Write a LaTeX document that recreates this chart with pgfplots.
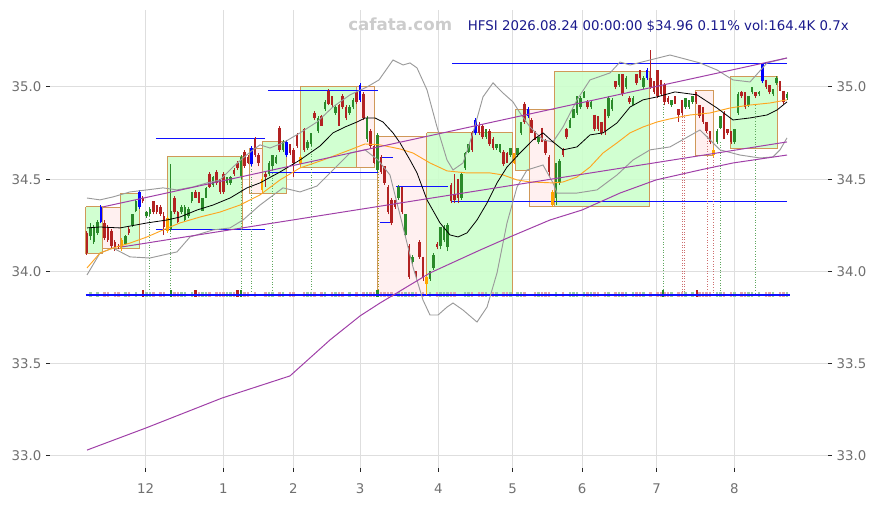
\documentclass[border=0pt]{standalone}
\usepackage{fontspec}
\setmainfont{DejaVu Sans}
\usepackage{pgfplots}
\usepackage{pgfplotstable}
\pgfplotsset{compat=1.18}

\definecolor{cup}{HTML}{2A8A2A}
\definecolor{cdn}{HTML}{B22222}
\definecolor{chi}{HTML}{0000FF}
\definecolor{clo}{HTML}{FFA500}
\definecolor{boxgreen}{HTML}{CCFFCC}
\definecolor{boxpink}{HTML}{FFEEEE}
\definecolor{boxedge}{HTML}{D09858}
\definecolor{band}{HTML}{9A9A9A}
\definecolor{maorange}{HTML}{FFA520}
\definecolor{purp}{HTML}{A040A8}
\definecolor{ticktext}{HTML}{707070}
\definecolor{ttl}{HTML}{1A1A8C}
\definecolor{wmark}{HTML}{CCCCCC}
\definecolor{hline}{HTML}{1010FF}

% daily candles: index, open, high, low, close, volume bar height
\pgfplotstableread{
i o h l c v
1 34.19 34.26 34.17 34.24 0.025
2 34.16 34.25 34.15 34.24 0
3 34.21 34.28 34.20 34.27 0.025
11 34.15 34.20 34.15 34.19 0.025
13 34.25 34.31 34.24 34.31 0
14 34.33 34.39 34.32 34.38 0.025
17 34.30 34.33 34.29 34.32 0.025
18 34.31 34.35 34.30 34.34 0.025
24 34.23 34.58 34.22 34.33 0
27 34.32 34.36 34.31 34.35 0.025
28 34.28 34.36 34.27 34.35 0.025
29 34.30 34.35 34.29 34.34 0
30 34.38 34.43 34.37 34.43 0.025
33 34.33 34.40 34.33 34.40 0.025
34 34.40 34.46 34.40 34.45 0.025
36 34.47 34.52 34.46 34.51 0
40 34.48 34.51 34.47 34.51 0.025
41 34.48 34.52 34.47 34.51 0.025
44 34.52 34.63 34.50 34.62 0
52 34.53 34.60 34.52 34.59 0.025
53 34.57 34.63 34.55 34.63 0.025
54 34.59 34.63 34.58 34.62 0
56 34.66 34.71 34.65 34.70 0.025
63 34.67 34.71 34.66 34.70 0.025
64 34.69 34.75 34.68 34.75 0.025
66 34.76 34.84 34.75 34.83 0
68 34.88 34.93 34.87 34.92 0.025
71 34.86 34.90 34.85 34.89 0.025
75 34.86 34.90 34.85 34.89 0.025
76 34.89 34.94 34.88 34.93 0
80 34.72 34.84 34.70 34.83 0.025
83 34.55 34.75 34.54 34.74 0
89 34.40 34.47 34.39 34.46 0.025
91 34.20 34.31 34.19 34.31 0.025
93 34.05 34.09 34.04 34.08 0.025
98 33.96 34.00 33.95 34.00 0.025
99 34.02 34.10 34.01 34.09 0
101 34.14 34.24 34.12 34.24 0.025
102 34.17 34.25 34.16 34.24 0.025
103 34.13 34.26 34.11 34.25 0.025
107 34.40 34.54 34.39 34.53 0
108 34.56 34.65 34.55 34.64 0.025
109 34.65 34.69 34.64 34.69 0.025
114 34.73 34.77 34.72 34.77 0.025
117 34.67 34.69 34.66 34.69 0.025
118 34.65 34.69 34.64 34.69 0
121 34.63 34.67 34.62 34.67 0.025
123 34.63 34.67 34.62 34.67 0.025
124 34.75 34.81 34.74 34.81 0.025
129 34.70 34.73 34.69 34.73 0.025
134 34.40 34.59 34.36 34.59 0.025
135 34.48 34.61 34.47 34.60 0
138 34.78 34.83 34.78 34.82 0.025
139 34.83 34.88 34.83 34.88 0.025
140 34.86 34.95 34.85 34.95 0.025
141 34.89 34.95 34.88 34.94 0
142 34.94 34.98 34.94 34.97 0.025
144 34.89 34.93 34.88 34.92 0.025
149 34.84 34.95 34.83 34.94 0.025
150 34.88 34.94 34.87 34.93 0
152 35.01 35.07 35.00 35.07 0.025
154 35.00 35.06 34.99 35.05 0.025
156 34.90 34.95 34.90 34.94 0.025
159 35.00 35.06 34.99 35.05 0.025
167 34.90 34.93 34.89 34.93 0.025
171 34.89 34.94 34.88 34.94 0.025
172 34.89 34.93 34.88 34.93 0
173 34.92 34.95 34.91 34.95 0.025
180 34.70 34.77 34.69 34.76 0.025
181 34.78 34.84 34.77 34.84 0.025
185 34.70 34.77 34.69 34.77 0.025
186 34.86 34.97 34.85 34.96 0
189 34.90 34.95 34.89 34.95 0.025
190 34.97 35.00 34.96 35.00 0.025
192 34.96 34.98 34.95 34.97 0.025
196 34.96 34.99 34.95 34.99 0.025
197 35.02 35.06 35.01 35.05 0
200 34.94 34.97 34.93 34.96 0.025
}\upc

\pgfplotstableread{
i o h l c v
0 34.21 34.22 34.09 34.10 0
5 34.26 34.28 34.17 34.18 0.025
6 34.24 34.25 34.16 34.17 0.025
7 34.22 34.23 34.12 34.14 0
8 34.16 34.17 34.11 34.13 0.025
9 34.14 34.15 34.12 34.13 0.025
12 34.23 34.24 34.20 34.21 0.025
16 34.40 34.41 34.37 34.38 0
19 34.38 34.38 34.31 34.32 0.025
20 34.36 34.36 34.31 34.32 0
21 34.35 34.36 34.30 34.31 0.025
22 34.30 34.32 34.20 34.24 0.025
25 34.40 34.41 34.31 34.32 0.025
26 34.32 34.33 34.26 34.27 0.025
31 34.43 34.44 34.40 34.40 0
32 34.42 34.43 34.37 34.38 0.025
35 34.53 34.54 34.45 34.46 0.025
37 34.54 34.55 34.47 34.48 0.025
38 34.50 34.50 34.42 34.43 0.025
39 34.53 34.54 34.42 34.43 0.025
42 34.55 34.56 34.52 34.53 0.025
43 34.59 34.60 34.55 34.56 0
45 34.65 34.66 34.56 34.57 0.025
46 34.62 34.63 34.58 34.59 0.025
48 34.72 34.73 34.62 34.63 0.025
49 34.63 34.64 34.57 34.59 0
51 34.53 34.54 34.46 34.51 0.025
55 34.78 34.79 34.65 34.66 0.025
58 34.69 34.69 34.63 34.64 0.025
59 34.66 34.67 34.51 34.59 0.025
60 34.74 34.75 34.67 34.68 0
62 34.77 34.78 34.65 34.66 0.025
65 34.86 34.87 34.82 34.83 0.025
67 34.84 34.85 34.79 34.79 0.025
69 34.98 34.99 34.90 34.91 0
70 34.95 34.95 34.89 34.90 0.025
72 34.90 34.91 34.79 34.79 0.025
73 34.95 34.96 34.88 34.89 0.025
74 34.89 34.90 34.82 34.83 0
77 34.97 34.97 34.91 34.92 0.025
79 34.96 34.97 34.82 34.83 0.025
81 34.76 34.77 34.67 34.68 0.025
82 34.68 34.69 34.58 34.59 0.025
84 34.62 34.63 34.53 34.54 0.025
85 34.57 34.57 34.47 34.48 0.025
86 34.46 34.47 34.31 34.32 0.025
87 34.39 34.40 34.25 34.26 0.025
88 34.39 34.39 34.34 34.35 0
90 34.46 34.46 34.31 34.32 0.025
92 34.14 34.15 33.96 33.97 0.025
94 34.00 34.00 33.96 33.98 0.025
95 34.16 34.17 34.07 34.08 0
96 34.08 34.08 33.95 33.97 0.025
100 34.15 34.16 34.12 34.13 0.025
104 34.47 34.48 34.37 34.38 0.025
105 34.42 34.53 34.37 34.39 0.025
106 34.50 34.50 34.37 34.40 0
110 34.75 34.76 34.65 34.66 0.025
112 34.79 34.81 34.74 34.75 0.025
113 34.79 34.80 34.72 34.73 0.025
115 34.76 34.77 34.68 34.69 0
116 34.72 34.73 34.66 34.67 0.025
119 34.65 34.66 34.57 34.58 0.025
120 34.64 34.65 34.59 34.59 0.025
125 34.91 34.92 34.80 34.81 0.025
127 34.82 34.83 34.75 34.75 0
128 34.76 34.76 34.71 34.71 0.025
130 34.78 34.78 34.70 34.70 0.025
131 34.71 34.72 34.63 34.64 0.025
132 34.62 34.63 34.51 34.54 0.025
136 34.66 34.67 34.62 34.63 0.025
137 34.77 34.78 34.72 34.73 0
143 34.92 34.93 34.88 34.89 0.025
145 34.85 34.85 34.76 34.77 0.025
146 34.84 34.84 34.76 34.77 0.025
147 34.81 34.81 34.74 34.75 0
148 34.88 34.88 34.74 34.76 0.025
151 35.03 35.03 34.99 35.00 0.025
153 35.07 35.07 34.95 34.96 0.025
155 34.94 34.95 34.91 34.92 0
157 35.07 35.07 35.01 35.02 0.025
158 35.09 35.09 35.04 35.05 0.025
161 35.05 35.20 34.99 35.00 0.025
162 35.03 35.03 34.96 34.97 0
163 35.09 35.09 34.94 34.95 0.025
164 35.04 35.04 34.95 34.96 0.025
165 35.01 35.02 34.90 34.92 0.025
166 34.94 34.95 34.91 34.92 0.025
168 34.95 34.95 34.91 34.91 0
169 34.88 34.88 34.81 34.85 0.025
170 34.93 34.93 34.85 34.86 0.025
174 34.97 34.97 34.91 34.92 0
175 34.90 34.90 34.83 34.84 0.025
176 34.89 34.89 34.80 34.81 0.025
177 34.81 34.81 34.75 34.76 0.025
178 34.76 34.76 34.69 34.70 0.025
182 34.86 34.87 34.72 34.72 0.025
183 34.77 34.77 34.74 34.75 0
184 34.76 34.76 34.69 34.70 0.025
187 34.97 34.98 34.94 34.95 0.025
188 34.97 34.97 34.88 34.89 0.025
191 34.97 34.97 34.94 34.95 0
194 35.04 35.04 34.99 35.00 0.025
195 35.01 35.01 34.96 34.97 0.025
198 35.03 35.03 34.98 34.98 0.025
199 34.98 34.98 34.91 34.92 0.025
}\dnc

% new highs (blue) and new lows (orange)
\pgfplotstableread{
i o h l c
4 34.27 34.36 34.26 34.35
15 34.35 34.44 34.34 34.43
47 34.58 34.68 34.57 34.67
57 34.63 34.71 34.62 34.70
78 34.93 35.02 34.92 35.01
111 34.75 34.83 34.74 34.82
126 34.84 34.89 34.83 34.88
160 35.05 35.10 35.04 35.09
193 35.03 35.13 35.02 35.13
}\hic

\pgfplotstableread{
i o h l c
10 34.13 34.18 34.11 34.17
23 34.22 34.30 34.21 34.29
50 34.44 34.51 34.43 34.50
61 34.58 34.63 34.57 34.62
97 33.93 33.99 33.873 33.97
122 34.59 34.64 34.58 34.64
133 34.36 34.44 34.35 34.43
179 34.63 34.67 34.62 34.66
}\loc

\newcommand\candles[2]{%
  \addplot[#2, line width=0.75pt, -, quiver={u=0, v=\thisrow{h}-\thisrow{l}}] table[x=i, y=l] {#1};
  \addplot[#2, line width=2.1pt, -, quiver={u=0, v=\thisrow{c}-\thisrow{o}}] table[x=i, y=o] {#1};
}

\pgfplotsset{
  gbox/.style={fill=boxgreen, draw=boxedge, line width=0.75pt, fill opacity=0.9},
  rbox/.style={fill=boxpink, draw=boxedge, line width=0.75pt, fill opacity=0.9},
  hl/.style={hline, line width=0.75pt},
  frame/.style={
    at={(37.5pt,27.75pt)}, anchor=south west,
    scale only axis, width=583.5pt, height=343.5pt,
    xmin=-10.57, xmax=211.71, ymin=32.935, ymax=35.417,
    ytick={33,33.5,34,34.5,35},
    ticklabel style={font=\fontsize{10}{12}\selectfont, text=ticktext},
    /pgf/number format/assume math mode=true,
    yticklabel style={/pgf/number format/.cd, fixed, fixed zerofill, precision=1},
  },
}

\begin{document}
\begin{tikzpicture}
\path[use as bounding box] (0,0) rectangle (656.25pt,378.75pt);

\begin{axis}[
  frame,
  axis x line*=bottom, axis y line*=left,
  axis line style={draw=none},
  tick align=outside, major tick length=3pt,
  tick style={black!85, line width=0.75pt},
  xtick={16.77,38.94,58.94,78,100.37,121.63,141.43,162.77,184.94},
  xticklabels={12,1,2,3,4,5,6,7,8},
  xticklabel style={yshift=-5pt},
  grid=major, grid style={line width=0.75pt, draw=black!13},
]
% monthly boxes
\addplot[gbox] coordinates {(-0.29,34.350) (4.57,34.350) (4.57,34.100) (-0.29,34.100) (-0.29,34.350)};
\addplot[rbox] coordinates {(4.57,34.344) (9.71,34.344) (9.71,34.127) (4.57,34.127) (4.57,34.344)};
\addplot[gbox] coordinates {(9.71,34.425) (14.86,34.425) (14.86,34.127) (9.71,34.127) (9.71,34.425)};
\addplot[gbox] coordinates {(22.86,34.621) (44.29,34.621) (44.29,34.225) (22.86,34.225) (22.86,34.621)};
\addplot[rbox] coordinates {(46.57,34.669) (50.0,34.669) (50.0,34.425) (46.57,34.425) (46.57,34.669)};
\addplot[gbox] coordinates {(50.0,34.707) (57.14,34.707) (57.14,34.425) (50.0,34.425) (50.0,34.707)};
\addplot[gbox] coordinates {(60.86,35.005) (77.14,35.005) (77.14,34.566) (60.86,34.566) (60.86,35.005)};
\addplot[rbox] coordinates {(77.14,35.005) (82.0,35.005) (82.0,34.566) (77.14,34.566) (77.14,35.005)};
\addplot[rbox] coordinates {(83.14,34.734) (97.14,34.734) (97.14,33.873) (83.14,33.873) (83.14,34.734)};
\addplot[gbox] coordinates {(97.14,34.751) (121.71,34.751) (121.71,33.873) (97.14,33.873) (97.14,34.751)};
\addplot[gbox] coordinates {(122.29,34.880) (126.29,34.880) (126.29,34.545) (122.29,34.545) (122.29,34.880)};
\addplot[rbox] coordinates {(126.29,34.880) (133.43,34.880) (133.43,34.350) (126.29,34.350) (126.29,34.880)};
\addplot[gbox] coordinates {(133.43,35.081) (160.57,35.081) (160.57,34.350) (133.43,34.350) (133.43,35.081)};
\addplot[rbox] coordinates {(173.71,34.978) (178.86,34.978) (178.86,34.631) (173.71,34.631) (173.71,34.978)};
\addplot[gbox] coordinates {(183.71,35.054) (197.14,35.054) (197.14,34.664) (183.71,34.664) (183.71,35.054)};

% previous-period high / low levels
\addplot[hl] coordinates {(19.71,34.718) (50.86,34.718)};
\addplot[hl] coordinates {(19.71,34.225) (50.86,34.225)};
\addplot[hl] coordinates {(51.71,34.978) (83.14,34.978)};
\addplot[hl] coordinates {(51.71,34.539) (83.14,34.539)};
\addplot[hl] coordinates {(83.71,34.615) (87.43,34.615)};
\addplot[hl] coordinates {(83.71,34.263) (87.43,34.263)};
\addplot[hl] coordinates {(88.29,34.458) (103.14,34.458)};
\addplot[hl] coordinates {(104.29,35.125) (200.0,35.125)};
\addplot[hl] coordinates {(104.29,34.377) (200.0,34.377)};

% signal markers
\pgfplotstableread{
i t
17.71 34.30
23.71 34.22
44.00 34.50
46.86 34.57
52.86 34.55
64.00 34.68
164.57 34.95
180.86 34.70
190.86 34.90
}\sigup
\pgfplotstableread{
i t
170.00 34.85
170.57 34.85
177.14 34.75
178.86 34.62
}\sigdn
\addplot[cup!75, line width=0.6pt, dash pattern=on 0.75pt off 1.2pt, -, quiver={u=0, v=33.873-\thisrow{t}}] table[x=i, y=t] {\sigup};
\addplot[cdn!65, line width=0.6pt, dash pattern=on 0.75pt off 1.2pt, -, quiver={u=0, v=33.873-\thisrow{t}}] table[x=i, y=t] {\sigdn};
\addplot[olive!80, line width=0.6pt, dash pattern=on 0.75pt off 1.2pt] coordinates {(83.14,34.54) (83.14,33.873)};

% volume
\addplot[cup!45, line width=2.1pt, -, quiver={u=0, v=\thisrow{v}}] table[x=i, y expr=33.862] {\upc};
\addplot[cdn!40, line width=2.1pt, -, quiver={u=0, v=\thisrow{v}}] table[x=i, y expr=33.862] {\dnc};
\addplot[cup, line width=2.1pt, -, quiver={u=0, v=0.036}] coordinates {(24,33.862) (44,33.862) (83,33.862) (164.57,33.862)};
\addplot[cdn, line width=2.1pt, -, quiver={u=0, v=0.036}] coordinates {(16,33.862) (31,33.862) (43,33.862) (174.29,33.862)};
\addplot[hline, line width=1.6pt] coordinates {(-0.3,33.873) (200.9,33.873)};

% candles
\candles{\upc}{cup}
\candles{\dnc}{cdn}
\candles{\hic}{chi}
\candles{\loc}{clo}

% bands and averages
\addplot[band, line width=0.7pt] coordinates {
(0,34.398) (3.71,34.388) (7.43,34.404) (12.29,34.431) (17.14,34.442) (21.71,34.453)
(25.71,34.442) (30.29,34.458) (34.29,34.480) (38.0,34.496) (41.71,34.566) (44.57,34.615)
(47.43,34.659) (49.43,34.686) (52.29,34.669) (56.0,34.697) (60.86,34.751) (65.71,34.810)
(70.29,34.892) (75.14,34.957) (80.0,35.000) (83.43,35.038) (87.43,35.146) (90.29,35.119)
(92.29,35.130) (94.29,35.103) (97.14,34.984) (100.0,34.783) (102.86,34.604) (104.57,34.550)
(107.43,34.588) (110.29,34.751) (113.14,34.946) (116.0,35.022) (118.86,34.967) (121.71,34.919)
(123.71,34.859) (126.57,34.783) (130.29,34.713) (133.14,34.702) (136.0,34.783) (140.0,34.930)
(143.71,35.038) (149.43,35.076) (152.29,35.135) (155.14,35.119) (160.86,35.146) (166.57,35.173)
(175.14,35.130) (180.0,35.092) (184.57,35.038) (189.43,35.027) (194.29,35.130) (200.0,35.157)};
\addplot[band, line width=0.7pt] coordinates {
(0,33.981) (3.71,34.100) (7.43,34.127) (12.29,34.079) (18.0,34.073) (21.71,34.089)
(25.71,34.106) (29.43,34.187) (36.0,34.225) (40.86,34.236) (44.57,34.279) (49.43,34.360)
(56.0,34.453) (60.86,34.431) (65.71,34.463) (70.29,34.550) (75.14,34.642) (79.43,34.659)
(83.14,34.604) (86.57,34.523) (90.29,34.241) (93.14,34.024) (96.0,33.845)
(98.0,33.764) (100.29,33.764) (102.86,33.807) (104.57,33.829) (107.43,33.791) (111.43,33.726)
(114.29,33.807) (117.14,33.992) (120.0,34.263) (122.86,34.458) (125.71,34.550) (130.29,34.577)
(133.14,34.480) (134.29,34.425) (140.0,34.425) (145.71,34.442) (151.43,34.523) (156.0,34.604)
(160.86,34.659) (166.57,34.675) (175.14,34.767) (178.0,34.713) (180.86,34.659) (186.57,34.631)
(192.29,34.615) (196.0,34.621) (198.0,34.659) (200.0,34.724)};
\addplot[maorange, line width=0.7pt] coordinates {
(0,34.019) (3.71,34.100) (7.43,34.127) (12.29,34.154) (17.14,34.187) (21.71,34.225)
(26.57,34.263) (32.29,34.295) (38.0,34.322) (43.71,34.360) (49.43,34.415) (55.14,34.496)
(60.86,34.561) (67.43,34.604) (75.14,34.659) (79.43,34.691) (83.71,34.686) (89.43,34.664)
(93.14,34.642) (98.0,34.588) (102.86,34.545) (108.57,34.534) (115.14,34.534) (118.86,34.523)
(122.86,34.496) (126.57,34.485) (133.14,34.480) (136.0,34.485) (140.0,34.512) (143.71,34.566)
(147.43,34.642) (151.43,34.697) (155.14,34.751) (158.86,34.783) (162.86,34.810) (166.57,34.827)
(172.29,34.848) (178.0,34.859) (183.71,34.886) (189.43,34.902) (195.14,34.913) (200.0,34.930)};
\addplot[black, line width=0.6pt] coordinates {
(0,34.236) (3.71,34.241) (9.43,34.236) (17.14,34.263) (22.86,34.279) (26.57,34.295)
(31.43,34.333) (36.0,34.360) (40.86,34.398) (45.71,34.453) (49.43,34.480) (55.14,34.539)
(60.86,34.604) (66.57,34.680) (70.29,34.751) (73.71,34.783) (77.14,34.810) (79.43,34.832)
(82.29,34.832) (84.57,34.810) (87.43,34.751) (89.43,34.697) (92.29,34.604) (94.29,34.534)
(97.14,34.388) (100.86,34.263) (103.71,34.198) (106.0,34.187) (108.57,34.209) (111.43,34.279)
(114.29,34.371) (117.14,34.480) (120.0,34.566) (123.71,34.642) (127.43,34.713) (130.29,34.751)
(133.14,34.702) (136.0,34.659) (140.0,34.675) (143.71,34.740) (147.43,34.751) (151.43,34.805)
(155.14,34.891) (158.86,34.930) (162.86,34.946) (168.0,34.973) (174.29,34.957) (180.0,34.886)
(184.57,34.821) (189.43,34.832) (194.29,34.848) (197.14,34.875) (200.0,34.919)};
\addplot[purp, line width=0.75pt] coordinates {
(0,33.032) (16.86,33.152) (38.57,33.314) (58.0,33.434) (69.43,33.629) (78.0,33.759)
(83.71,33.829) (89.43,33.894) (98.0,33.992) (112.29,34.116) (121.43,34.192) (132.29,34.279)
(141.43,34.333) (152.29,34.425) (162.57,34.496) (175.14,34.550) (184.57,34.588) (200.0,34.631)};
\addplot[purp, line width=0.75pt] coordinates {(4.57,34.350) (200.0,35.157)};
\addplot[purp, line width=0.75pt] coordinates {(10.0,34.133) (200.0,34.702)};
\end{axis}

\begin{axis}[
  frame,
  hide x axis,
  axis y line*=right,
  axis line style={draw=none},
  tick align=outside, major tick length=3pt,
  tick style={black!85, line width=0.75pt},
]
\addplot[draw=none] coordinates {(0,34)};
\end{axis}

\node[anchor=base west, inner sep=0, text=wmark, font=\fontsize{12.5}{14}\selectfont\bfseries]
  at (261pt,355.5pt) {cafata.com};
\node[anchor=base east, inner sep=0, text=ttl, font=\fontsize{10}{12}\selectfont]
  at (636.75pt,355.5pt) {HFSI 2026.08.24 00:00:00 \$34.96 0.11\% vol:164.4K 0.7x};
\end{tikzpicture}
\end{document}
